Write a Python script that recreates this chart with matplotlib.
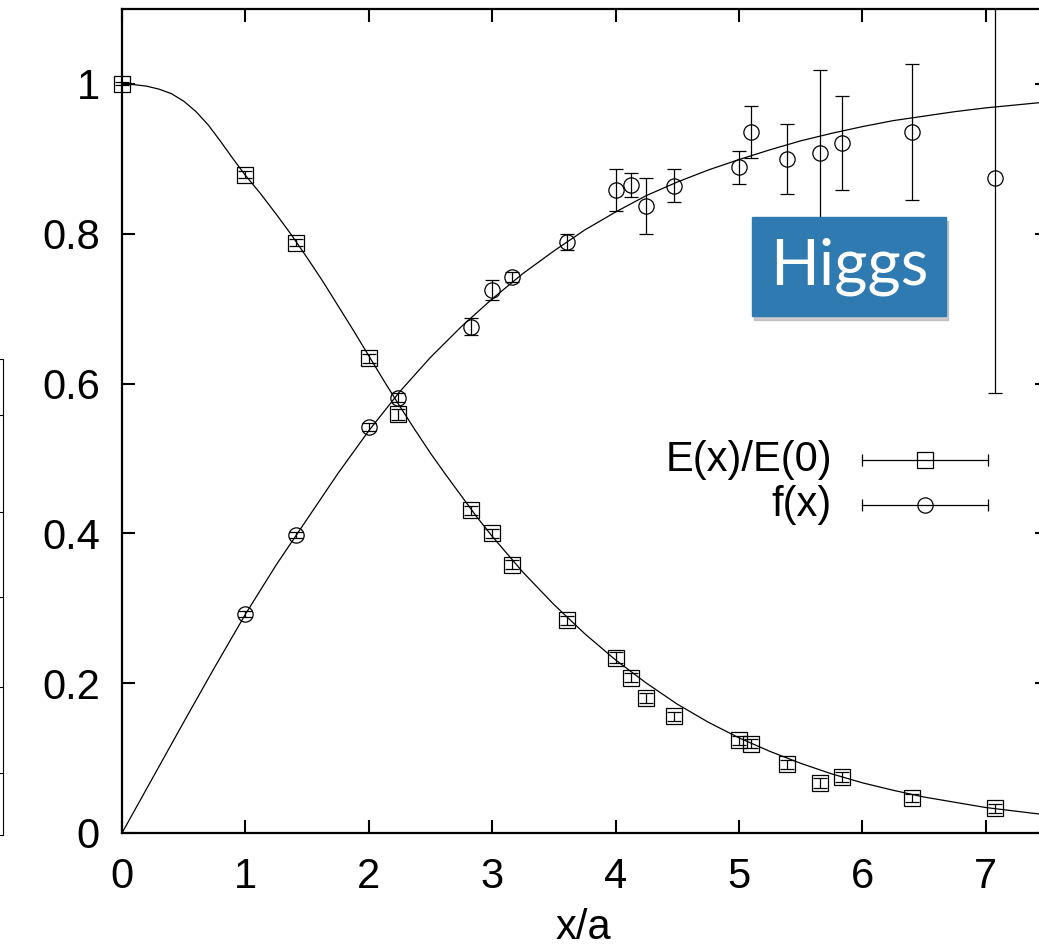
import numpy as np
import matplotlib
matplotlib.use("Agg")
import matplotlib.pyplot as plt
from matplotlib.patches import Rectangle
from matplotlib.lines import Line2D

plt.rcParams['font.family'] = ['Liberation Sans', 'DejaVu Sans']

# data
x_pts = [0, 1, 1.414, 2, 2.236, 2.828, 3, 3.162, 3.606, 4, 4.123, 4.243, 4.472,
         5, 5.099, 5.385, 5.657, 5.831, 6.403, 7.071]
E_val = [1.0, 0.879, 0.788, 0.634, 0.559, 0.431, 0.400, 0.358, 0.284, 0.234, 0.207,
         0.180, 0.156, 0.124, 0.119, 0.092, 0.067, 0.075, 0.047, 0.033]
E_err = [0.002, 0.005, 0.005, 0.006, 0.007, 0.006, 0.006, 0.006, 0.006, 0.007, 0.006,
         0.007, 0.006, 0.006, 0.006, 0.006, 0.007, 0.007, 0.005, 0.006]

f_x = x_pts[1:]
f_val = [0.292, 0.398, 0.542, 0.581, 0.676, 0.725, 0.742, 0.789, 0.858, 0.865, 0.837,
         0.864, 0.889, 0.936, 0.900, 0.908, 0.921, 0.936, 0.875]
f_err = [0.004, 0.004, 0.005, 0.006, 0.011, 0.013, 0.007, 0.011, 0.028, 0.016, 0.037,
         0.022, 0.022, 0.035, 0.047, 0.111, 0.063, 0.091, 0.288]

# fit curves
E_cx = [0, 0.1, 0.2, 0.3, 0.4, 0.5, 0.6, 0.7, 0.8, 0.9, 1.0, 1.125, 1.25, 1.375, 1.5,
        1.625, 1.75, 1.875, 2.0, 2.125, 2.25, 2.375, 2.5, 2.625, 2.75, 2.875, 3.0,
        3.25, 3.5, 3.75, 4.0, 4.25, 4.5, 4.75, 5.0, 5.25, 5.5, 5.75, 6.0, 6.25, 6.5,
        6.75, 7.0, 7.25, 7.5]
E_fit = [1.000, 0.999, 0.997, 0.993, 0.987, 0.977, 0.963, 0.945, 0.923, 0.900, 0.878,
         0.853, 0.826, 0.798, 0.768, 0.737, 0.704, 0.671, 0.637, 0.603, 0.570, 0.538,
         0.507, 0.478, 0.450, 0.422, 0.396, 0.348, 0.305, 0.266, 0.231, 0.200, 0.172,
         0.148, 0.127, 0.109, 0.093, 0.079, 0.067, 0.057, 0.048, 0.041, 0.034, 0.029,
         0.024]
f_cx = [0, 0.25, 0.5, 0.75, 1.0, 1.25, 1.5, 1.75, 2.0, 2.25, 2.5, 2.75, 3.0, 3.25, 3.5,
        3.75, 4.0, 4.25, 4.5, 4.75, 5.0, 5.25, 5.5, 5.75, 6.0, 6.25, 6.5, 6.75, 7.0,
        7.25, 7.5]
f_fit = [0.0, 0.074, 0.148, 0.221, 0.292, 0.358, 0.419, 0.480, 0.537, 0.589, 0.635,
         0.676, 0.713, 0.747, 0.777, 0.805, 0.829, 0.851, 0.869, 0.885, 0.899, 0.912,
         0.924, 0.934, 0.943, 0.951, 0.957, 0.963, 0.968, 0.972, 0.976]

fig = plt.figure(figsize=(10.39, 9.49), dpi=100)
ax = fig.add_axes([122/1039, 116/949, 925.5/1039, 824/949])

ax.plot(E_cx, E_fit, color='black', lw=0.9)
ax.plot(f_cx, f_fit, color='black', lw=0.9)
ax.errorbar(x_pts, E_val, yerr=E_err, fmt='s', ms=11, mfc='none', mec='black', mew=0.9,
            ecolor='black', elinewidth=0.9, capsize=5, capthick=0.9, clip_on=False)
ax.errorbar(f_x, f_val, yerr=f_err, fmt='o', ms=11, mfc='none', mec='black', mew=0.9,
            ecolor='black', elinewidth=0.9, capsize=5, capthick=0.9)

ax.set_xlim(0, 7.5)
ax.set_ylim(0, 1.1)
ax.set_xticks(range(0, 8))
ax.set_yticks([0, 0.2, 0.4, 0.6, 0.8, 1.0])
ax.set_yticklabels(['0', '0.2', '0.4', '0.6', '0.8', '1'])
ax.tick_params(direction='in', length=9.5, width=1.5, top=True, right=True,
               labelsize=30)
ax.tick_params(axis='x', pad=17)
ax.tick_params(axis='y', pad=16)
for s in ax.spines.values():
    s.set_linewidth(1.6)

# key in gnuplot style
keys = [('E(x)/E(0)', 's', 0.4527), ('f(x)', 'o', 0.398)]
for lab, mk, yk in keys:
    ax.text(0.7672, yk, lab, transform=ax.transAxes, ha='right', va='center', fontsize=30)
    ax.plot([0.7996, 0.9357], [yk, yk], transform=ax.transAxes, color='black', lw=0.9,
            marker='|', ms=8, mew=0.9)
    ax.plot([0.8676], [yk], transform=ax.transAxes, marker=mk, ms=11, mfc='none',
            mec='black', mew=0.9, ls='none')

fig.text(583/1039, (949-928)/949, 'x/a', ha='center', va='center', fontsize=30)

# Higgs label with shadow
fig.add_artist(Rectangle((754/1039, (949-320)/949), 194/1039, 99/949,
                         transform=fig.transFigure, color='#9a9a9a', alpha=0.5, zorder=5))
fig.add_artist(Rectangle((752/1039, (949-316)/949), 194/1039, 99/949,
                         transform=fig.transFigure, color='#2f7ab0', zorder=6))
fig.text(849/1039, (949-267)/949, 'Higgs', color='white', ha='center', va='center',
         fontsize=46, family='Lato', zorder=7)

# edge of neighbouring panel on the left
xf = 3/1039
fig.add_artist(Line2D([0, xf, xf, 0], [(949-359)/949, (949-359)/949, (949-835)/949, (949-835)/949],
                      transform=fig.transFigure, color='black', lw=0.8))
for yp in [415, 512, 597, 687, 773]:
    fig.add_artist(Line2D([0, xf], [(949-yp)/949]*2, transform=fig.transFigure,
                          color='black', lw=0.8))

fig.savefig('out.png', dpi=100)
